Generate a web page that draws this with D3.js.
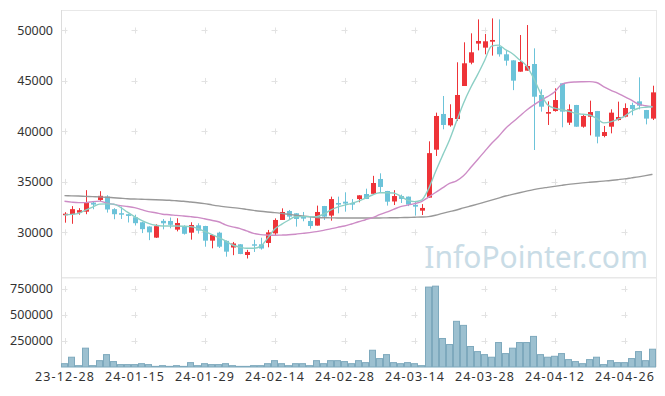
<!DOCTYPE html>
<html>
<head>
<meta charset="utf-8">
<script src="https://cdn.jsdelivr.net/npm/d3@7"></script>
<style>
  body { margin: 0; background: #fff; }
  svg { display: block; font-family: 'Noto Sans', 'Open Sans', sans-serif; }
</style>
</head>
<body>
<svg id="chart"></svg>
<script>
// trading days (KRX calendar)
const dates = [
  '23-12-28', '24-01-02', '24-01-03', '24-01-04', '24-01-05', '24-01-08', '24-01-09', '24-01-10', '24-01-11', '24-01-12',
  '24-01-15', '24-01-16', '24-01-17', '24-01-18', '24-01-19', '24-01-22', '24-01-23', '24-01-24', '24-01-25', '24-01-26',
  '24-01-29', '24-01-30', '24-01-31', '24-02-01', '24-02-02', '24-02-05', '24-02-06', '24-02-07', '24-02-08', '24-02-13',
  '24-02-14', '24-02-15', '24-02-16', '24-02-19', '24-02-20', '24-02-21', '24-02-22', '24-02-23', '24-02-26', '24-02-27',
  '24-02-28', '24-02-29', '24-03-04', '24-03-05', '24-03-06', '24-03-07', '24-03-08', '24-03-11', '24-03-12', '24-03-13',
  '24-03-14', '24-03-15', '24-03-18', '24-03-19', '24-03-20', '24-03-21', '24-03-22', '24-03-25', '24-03-26', '24-03-27',
  '24-03-28', '24-03-29', '24-04-01', '24-04-02', '24-04-03', '24-04-04', '24-04-05', '24-04-08', '24-04-09', '24-04-11',
  '24-04-12', '24-04-15', '24-04-16', '24-04-17', '24-04-18', '24-04-19', '24-04-22', '24-04-23', '24-04-24', '24-04-25',
  '24-04-26', '24-04-29', '24-04-30', '24-05-02', '24-05-03'
];

const open = [
  31700, 31800, 31950, 32050, 32950, 33210, 33550, 32300, 31900, 31800,
  31500, 31000, 30580, 29480, 31140, 31130, 30270, 30630, 29970, 30700,
  30630, 29180, 29970, 29160, 28500, 28820, 27760, 28820, 28820, 28950,
  29900, 31230, 32120, 31890, 31560, 31130, 30670, 32610, 31660, 32910,
  33040, 32910, 33300, 33800, 33820, 35290, 34100, 33060, 33600, 33540,
  32730, 32150, 33440, 38190, 41730, 40600, 41230, 44500, 46810, 48700,
  48300, 48890, 48400, 47640, 47040, 45920, 46020, 46680, 43610, 41760,
  42020, 44770, 40870, 42620, 40470, 41460, 42020, 39550, 40470, 41130,
  41460, 42620, 42980, 42120, 41270
];
const close = [
  31850, 32300, 32200, 32920, 32750, 33620, 32270, 31800, 31750, 31630,
  30910, 30320, 30000, 30620, 30900, 30750, 30930, 29860, 30730, 30170,
  29180, 29740, 28580, 28090, 28900, 27860, 28060, 28680, 28400, 30000,
  31230, 32020, 31560, 31330, 31360, 30630, 32020, 31560, 33300, 32750,
  32850, 32750, 33670, 33310, 34890, 34500, 33040, 33600, 33310, 32750,
  32550, 32420, 37850, 41530, 40640, 41330, 43610, 46750, 47840, 48960,
  48930, 49060, 47640, 47010, 45030, 46880, 46480, 43440, 42450, 41920,
  43110, 41960, 42190, 40470, 41530, 41920, 39480, 39940, 41860, 41430,
  42320, 42220, 42550, 41270, 43870
];
const high = [
  32000, 32600, 32400, 34180, 33080, 34080, 33680, 32400, 32550, 31830,
  31750, 31050, 30600, 30800, 31320, 31470, 31400, 30700, 31000, 30900,
  30650, 29820, 30060, 29200, 29050, 28840, 28270, 29270, 29470, 30240,
  31390, 32380, 32220, 31900, 32020, 31560, 32650, 32620, 33540, 33540,
  33970, 33300, 33680, 34330, 35600, 35850, 34110, 34180, 33740, 33550,
  33040, 32800, 39020, 41860, 43510, 42690, 46850, 48830, 49720, 51100,
  49650, 51200, 51100, 48070, 47050, 49550, 50540, 48230, 44170, 42980,
  44270, 44780, 42680, 42630, 41730, 43050, 42030, 40540, 42190, 42950,
  42780, 42850, 45360, 42130, 44530
];
const low = [
  30960, 30850, 31750, 31800, 32290, 33100, 31960, 31300, 31330, 30980,
  30680, 29930, 29230, 29450, 30300, 30400, 30100, 29780, 29280, 29880,
  28580, 28420, 28450, 27590, 27740, 27840, 27410, 28060, 28290, 28520,
  29710, 31230, 31230, 30570, 31100, 30370, 30670, 31230, 31160, 31890,
  32050, 32220, 32980, 33300, 33720, 33970, 32650, 32710, 32910, 32600,
  31660, 31720, 33440, 37570, 40210, 40470, 41030, 44500, 46650, 48030,
  47640, 47510, 47410, 46520, 44090, 45920, 46020, 38160, 41960, 40640,
  41960, 40410, 40640, 40460, 40370, 39610, 38820, 39420, 39810, 41070,
  41400, 41600, 42190, 40700, 41130
];

const volume = [
  32000, 94000, 13000, 181000, 13000, 61000, 119000, 52000, 23000, 23000,
  23000, 32000, 23000, 6000, 13000, 6000, 13000, 6000, 42000, 13000,
  32000, 23000, 23000, 32000, 13000, 6000, 6000, 13000, 13000, 32000,
  61000, 32000, 13000, 32000, 32000, 13000, 61000, 32000, 61000, 61000,
  52000, 32000, 61000, 42000, 161000, 81000, 119000, 42000, 32000, 42000,
  32000, 13000, 768000, 777000, 274000, 216000, 439000, 400000, 197000, 148000,
  119000, 94000, 235000, 129000, 181000, 235000, 235000, 294000, 119000, 94000,
  103000, 129000, 71000, 52000, 32000, 71000, 94000, 23000, 61000, 42000,
  42000, 81000, 148000, 61000, 171000
];

// moving averages as drawn
const ma5 = [
  31720, 31780, 31880, 32200, 32500, 32800, 32820, 32800, 32480, 32000,
  31560, 31200, 30900, 30700, 30630, 30630, 30630, 30610, 30570, 30400,
  30100, 29800, 29500, 29150, 28750, 28550, 28420, 28420, 28620, 29400,
  30300, 30800, 31200, 31550, 31560, 31560, 31560, 31800, 32200, 32500,
  32700, 32880, 33100, 33400, 33700, 33930, 33930, 33900, 33600, 33200,
  33050, 33200, 34300, 36000, 37600, 39150, 41000, 42800, 44300, 45600,
  47000, 48450, 48550, 48100, 47700, 47100, 46500, 45300, 43800, 42650,
  42300, 42150, 42000, 41800, 41700, 41630, 41300, 40850, 40950, 41200,
  41500, 42000, 42300, 42400, 42450
];
const ma20 = [
  33080, 33000, 32950, 32950, 33050, 33100, 32900, 32780, 32650, 32560,
  32450, 32250, 32050, 31950, 31800, 31750, 31680, 31620, 31560, 31480,
  31350, 31200, 31050, 30750, 30550, 30400, 30150, 29900, 29780, 29730,
  29710, 29730, 29760, 29820, 29900, 29980, 30070, 30200, 30350, 30500,
  30630, 30830, 31050, 31250, 31460, 31750, 32000, 32280, 32550, 32700,
  32850, 33050, 33500, 33950, 34400, 34850, 35100, 35600, 36400, 37200,
  38000, 38800, 39500, 40300, 40900, 41500, 42100, 42600, 43050, 43450,
  43900, 44650, 44850, 44900, 44920, 44930, 44850, 44450, 44100, 43800,
  43450, 43100, 42700, 42550, 42450
];
const ma60 = [
  33640, 33620, 33600, 33570, 33540, 33520, 33480, 33430, 33380, 33330,
  33300, 33280, 33250, 33230, 33210, 33180, 33130, 33080, 33010, 32940,
  32850, 32730, 32620, 32530, 32450, 32380, 32280, 32180, 32090, 32020,
  31960, 31880, 31790, 31700, 31620, 31550, 31480, 31450, 31440, 31430,
  31420, 31420, 31420, 31420, 31420, 31430, 31440, 31450, 31460, 31480,
  31500, 31520, 31560, 31700, 31880, 32050, 32220, 32420, 32610, 32800,
  33000, 33200, 33400, 33600, 33770, 33930, 34080, 34230, 34360, 34460,
  34560, 34660, 34760, 34830, 34900, 34960, 35020, 35080, 35140, 35220,
  35300, 35400, 35500, 35620, 35750
];

const priceTicks = [30000, 35000, 40000, 45000, 50000];
const volumeTicks = [250000, 500000, 750000];
const dateTicks = dates.filter((d, i) => i % 10 === 0);

const width = 665;
const height = 396;
const left = 61;
const right = 656;

const svg = d3.select('#chart')
  .attr('width', width)
  .attr('height', height);

const x = d3.scaleBand()
  .domain(dates)
  .range([left, right]);
const cx = d => x(d) + x.bandwidth() / 2;

const y = d3.scaleLinear()
  .domain([25450, 52000])
  .range([278.3, 10.3]);

const yv = d3.scaleLinear()
  .domain([0, 865000])
  .range([367, 277]);

// frames
svg.append('rect')
  .attr('x', left + 0.5).attr('y', 10.5)
  .attr('width', right - left).attr('height', 267.5)
  .attr('fill', 'none').attr('stroke', '#e8e8e8');
svg.append('rect')
  .attr('x', left + 0.5).attr('y', 277.5)
  .attr('width', right - left).attr('height', 89)
  .attr('fill', 'none').attr('stroke', '#e8e8e8');
svg.append('line')
  .attr('x1', left + 0.5).attr('x2', left + 0.5)
  .attr('y1', 10).attr('y2', 367)
  .attr('stroke', '#dcdcdc');

// little "+" marks at the grid crossings
const crosses = [];
dateTicks.forEach(d => {
  priceTicks.forEach(v => crosses.push([cx(d), y(v)]));
  volumeTicks.forEach(v => crosses.push([cx(d), yv(v)]));
});
svg.append('g')
  .selectAll('path')
  .data(crosses)
  .enter()
  .append('path')
  .attr('d', p => `M${p[0] - 3},${Math.round(p[1]) + 0.5}h6M${Math.round(p[0]) + 0.5},${p[1] - 3}v6`)
  .attr('stroke', '#e2e2e2')
  .attr('stroke-width', 1);

// watermark
svg.append('text')
  .attr('x', 648)
  .attr('y', 268)
  .attr('text-anchor', 'end')
  .attr('font-size', 30)
  .attr('fill', '#c9dce6')
  .text('InfoPointer.com');

// axes
const yAxis = svg.append('g')
  .attr('transform', `translate(${left},0)`)
  .call(d3.axisLeft(y).tickValues(priceTicks).tickSize(0).tickPadding(8).tickFormat(d3.format('d')));
const vAxis = svg.append('g')
  .attr('transform', `translate(${left},0)`)
  .call(d3.axisLeft(yv).tickValues(volumeTicks).tickSize(0).tickPadding(8).tickFormat(d3.format('d')));
const xAxis = svg.append('g')
  .attr('transform', `translate(0,367)`)
  .call(d3.axisBottom(x).tickValues(dateTicks).tickSize(0).tickPadding(5));

[yAxis, vAxis, xAxis].forEach(g => {
  g.select('.domain').remove();
  g.selectAll('text')
    .attr('fill', '#333')
    .attr('font-size', 12.5)
    .attr('font-family', "'Noto Sans', sans-serif");
});
xAxis.selectAll('text')
  .attr('textLength', 59)
  .attr('lengthAdjust', 'spacing');

// volume bars
svg.append('g')
  .selectAll('rect')
  .data(dates)
  .enter()
  .append('rect')
  .attr('x', d => x(d) + 0.5)
  .attr('y', (d, i) => yv(volume[i]))
  .attr('width', x.bandwidth() - 1)
  .attr('height', (d, i) => yv(0) - yv(volume[i]))
  .attr('fill', '#9cc0d0')
  .attr('stroke', '#7ea9bd')
  .attr('stroke-width', 1);

// candles
const upColor = '#ee3338';
const downColor = '#6cc3d9';
const candles = svg.append('g')
  .selectAll('g')
  .data(dates)
  .enter()
  .append('g')
  .attr('fill', (d, i) => close[i] >= open[i] ? upColor : downColor)
  .attr('stroke', (d, i) => close[i] >= open[i] ? upColor : downColor);

candles.append('line')
  .attr('x1', d => Math.round(cx(d)) + 0.5)
  .attr('x2', d => Math.round(cx(d)) + 0.5)
  .attr('y1', (d, i) => y(high[i]))
  .attr('y2', (d, i) => y(low[i]))
  .attr('stroke-width', 1);

candles.append('rect')
  .attr('x', d => Math.round(cx(d)) - 2)
  .attr('y', (d, i) => y(Math.max(open[i], close[i])))
  .attr('width', 5)
  .attr('height', (d, i) => Math.max(1, Math.abs(y(open[i]) - y(close[i]))))
  .attr('stroke', 'none');

// moving average lines
const maLines = [
  { values: ma60, color: '#999999' },
  { values: ma20, color: '#cd8cc6' },
  { values: ma5, color: '#8ccfc5' }
];
maLines.forEach(ma => {
  const line = d3.line()
    .x((v, i) => cx(dates[i]))
    .y(v => y(v))
    .curve(d3.curveMonotoneX);
  svg.append('path')
    .datum(ma.values)
    .attr('d', line)
    .attr('fill', 'none')
    .attr('stroke', ma.color)
    .attr('stroke-width', 1.4);
});
</script>
</body>
</html>
